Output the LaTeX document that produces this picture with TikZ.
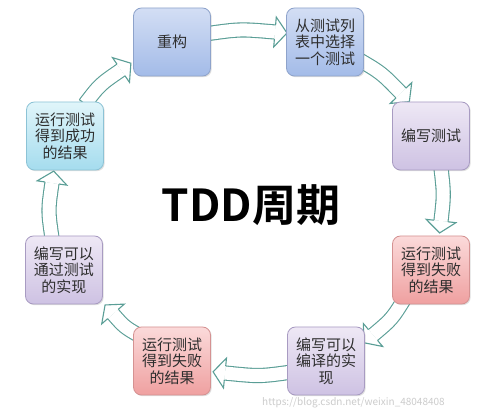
\documentclass[tikz,border=0pt]{standalone}
\usepackage{fontspec}
\setmainfont{Noto Sans CJK SC}[BoldFont={Noto Sans CJK SC Bold}]
\usetikzlibrary{calc,shadows}
\definecolor{arr}{HTML}{5A9E96}
\definecolor{txt}{HTML}{2E2E2E}
\definecolor{blueT}{HTML}{D3DEF4}
\definecolor{blueD}{HTML}{A3BBE8}
\definecolor{blueB}{HTML}{8EA3CB}
\definecolor{purT}{HTML}{EEE8F5}
\definecolor{purD}{HTML}{CEC2E3}
\definecolor{purB}{HTML}{A89BC2}
\definecolor{pinkT}{HTML}{FBDADA}
\definecolor{pinkD}{HTML}{EFA0A0}
\definecolor{pinkB}{HTML}{D59292}
\definecolor{cyanT}{HTML}{E0F5FA}
\definecolor{cyanD}{HTML}{A5DCEE}
\definecolor{cyanB}{HTML}{8CC3D6}
\newcommand\barrow[3]{%
  \draw[arr, line width=1.1pt, double=white, double distance=13pt] (#1) .. controls (#2) .. (#3);
  \draw[arr, line width=1.1pt] ($(#1)!7pt!90:(#2)$) -- ($(#1)!7pt!-90:(#2)$);
  \fill[white] ($(#3)!7pt!90:(#2)$) -- ($(#3)!15pt!90:(#2)$) -- ($(#3)!-12pt!(#2)$) -- ($(#3)!15pt!-90:(#2)$) -- ($(#3)!7pt!-90:(#2)$) -- cycle;
  \draw[arr, line width=1.1pt, line join=miter] ($(#3)!7pt!90:(#2)$) -- ($(#3)!15pt!90:(#2)$) -- ($(#3)!-12pt!(#2)$) -- ($(#3)!15pt!-90:(#2)$) -- ($(#3)!7pt!-90:(#2)$);
}
\begin{document}
\begin{tikzpicture}[x=1pt,y=-1pt,
  box/.style={rounded corners=8pt, minimum width=77pt, minimum height=68pt,
    align=center, inner sep=2pt, font=\fontsize{15}{16.5}\selectfont, text=txt,
    line width=0.8pt, drop shadow={shadow xshift=1.2pt, shadow yshift=-1.2pt, opacity=0.25}},
  bluebox/.style={box, draw=blueB, top color=blueT, bottom color=blueD},
  purbox/.style={box, draw=purB, top color=purT, bottom color=purD},
  pinkbox/.style={box, draw=pinkB, top color=pinkT, bottom color=pinkD},
  cyanbox/.style={box, draw=cyanB, top color=cyanT, bottom color=cyanD}]
\useasboundingbox (0,0) rectangle (499,409);
\fill[white] (0,0) rectangle (499,409);
% arrow coordinates
\coordinate (a1s) at (205,34); \coordinate (a1c) at (240,29); \coordinate (a1e) at (275,32);
\coordinate (a2s) at (356,58); \coordinate (a2c) at (381.3,72.7); \coordinate (a2e) at (401,93);
\coordinate (a3s) at (441,168); \coordinate (a3c) at (444,194.5); \coordinate (a3e) at (441,221);
\coordinate (a4s) at (405,298); \coordinate (a4c) at (392,319); \coordinate (a4e) at (373,335);
\coordinate (a5s) at (292,372); \coordinate (a5c) at (259.5,376.5); \coordinate (a5e) at (225,373);
\coordinate (a6s) at (140,336); \coordinate (a6c) at (124.4,327); \coordinate (a6e) at (113,314);
\coordinate (a7s) at (52,238); \coordinate (a7c) at (48,210.5); \coordinate (a7e) at (52,183);
\coordinate (a8s) at (85,104); \coordinate (a8c) at (99.9,84.5); \coordinate (a8e) at (121,70);
\barrow{a1s}{a1c}{a1e}
\barrow{a2s}{a2c}{a2e}
\barrow{a3s}{a3c}{a3e}
\barrow{a4s}{a4c}{a4e}
\barrow{a5s}{a5c}{a5e}
\barrow{a6s}{a6c}{a6e}
\barrow{a7s}{a7c}{a7e}
\barrow{a8s}{a8c}{a8e}
% boxes
\node[bluebox] (n1) at (172,42) {重构};
\node[bluebox] (n2) at (325,42) {从测试列\\表中选择\\一个测试};
\node[purbox] (n3) at (431,136) {编写测试};
\node[pinkbox] (n4) at (431,270) {运行测试\\得到失败\\的结果};
\node[purbox] (n5) at (326,361) {编写可以\\编译的实\\现};
\node[pinkbox] (n6) at (172,361) {运行测试\\得到失败\\的结果};
\node[purbox] (n7) at (64,270) {编写可以\\通过测试\\的实现};
\node[cyanbox] (n8) at (65,136) {运行测试\\得到成功\\的结果};
\node[font=\fontsize{44}{48}\selectfont\bfseries, text=black] (title) at (251,205) {TDD周期};
\node[font=\fontsize{10}{11}\selectfont, text=gray!40, anchor=west, inner sep=0pt] (wm) at (262,402.5) {https://blog.csdn.net/weixin\_48048408};
\end{tikzpicture}
\end{document}
